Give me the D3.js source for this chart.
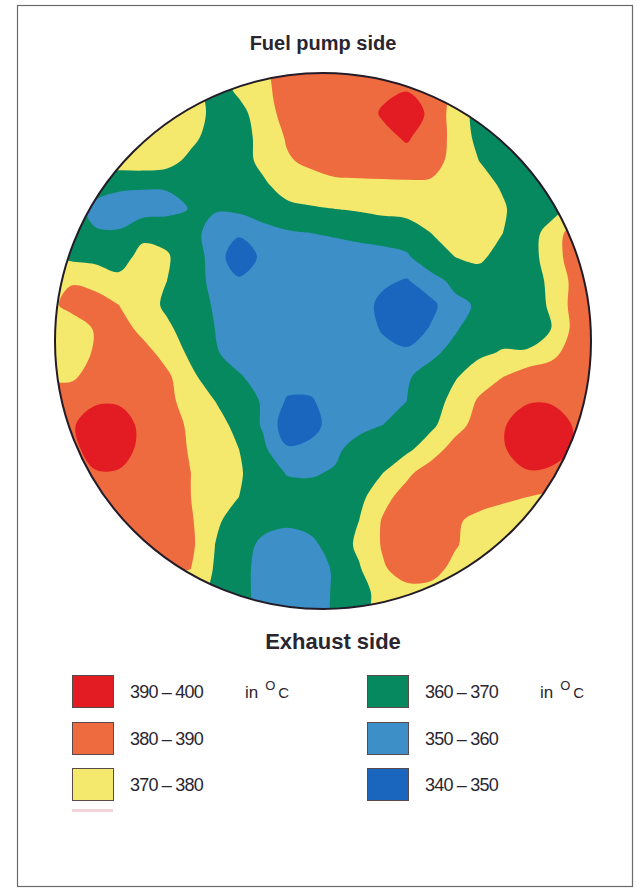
<!DOCTYPE html>
<html>
<head>
<meta charset="utf-8">
<script src="https://cdn.jsdelivr.net/npm/d3@7"></script>
<style>
  body { margin: 0; background: #fff; }
  svg text { font-family: "Liberation Sans", Arial, Helvetica, sans-serif; fill: #2a2630; }
</style>
</head>
<body>
<svg id="chart" width="637" height="892"></svg>
<script>
// Piston crown temperature field, °C, sampled on a regular 24 x 24 grid
// (rows run top to bottom, columns left to right across the crown).
const temperatureGrid = [
  [375,375,375,375,375,375,375,365,372,377,385,385,385,386,388,389,386,378,365,365,365,365,365,365],
  [375,375,375,375,375,375,375,365,372,377,385,385,385,386,388,389,386,378,365,365,365,365,365,365],
  [375,375,375,375,375,375,375,367,367,375,384,385,385,386,391,398,387,376,366,365,365,365,365,365],
  [375,375,375,375,375,376,373,365,366,373,381,385,385,386,388,391,386,377,367,365,365,365,365,365],
  [375,375,375,375,376,374,367,365,365,373,379,382,384,385,386,387,385,376,370,365,365,365,365,365],
  [365,365,365,362,361,361,364,365,366,368,375,376,378,378,378,378,378,376,373,369,365,365,365,365],
  [362,365,357,355,356,357,360.5,361,362,364,367,369,370,371,372,374,376,376,376,371,365,366,373,378],
  [363,363,361,361,367,367,364,355,352,357,359,360,361,362,365,364,370,375,376,370,365,374,385,385],
  [372,368,367,365,374,371,364,357,341,353,356,355,356,357,356,359,365,370,372,366,365,375,385,386],
  [381,379,377,373,375,370,365,357,352,355,356,356,356,356,352,349,357,362,365,365,365,372,383,385],
  [376,384,384,380,375,368,365,359,356,355,355,355,355,355,347,341,347,358,361,365,366,371,384,385],
  [376,372,381,385,377,372,365,360,356,355,355,355,355,355,349,344,351,359,365,365,365,370,383,385],
  [375,375,381,386,384,376,368,361,356,355,355,355,355,355,353,352,358,363,368,371,371,377,385,386],
  [377,378,385,386,386,382,372,365,361,356,354,354,355,355,355,359,364,369,376,380,386,386,386,386],
  [386,388,389,389,386,383,375,370,365,359,349,349,355,355,356,360,364,374,381,387,389,389,386,386],
  [388,389,394,394,388,385,378,374,367,359,344,346,355,357,360,364,368,376,384,389,396,396,389,388],
  [388,386,396,395,387,385,379,375,370,362,351,353,358,364,366,368,375,384,386,389,396,395,389,388],
  [388,388,389,389,386,385,380,375,371,365,359.5,359,361,365,370,378,385,386,386,388,389,388,386,386],
  [386,386,386,386,385,385,380,375,370,365,364,364,365,367,377,384,386,386,386,382,380,378,378,378],
  [385,385,385,385,385,385,381,372,365,363,362,363,365,370,381,386,386,382,376,375,375,375,375,375],
  [385,385,385,385,385,385,382,370,364,358,355,358,364,372,381,386,386,381,375,375,375,375,375,375],
  [382,382,382,382,382,382,380,369,364,356,355,356,361,369,379,384,384,377,375,375,375,375,375,375],
  [375,375,375,375,375,375,375,368,364,356,355,356,361,366,374,377,376,375,375,375,375,375,375,375],
  [375,375,375,375,375,375,375,368,364,356,355,356,361,366,374,377,376,375,375,375,375,375,375,375]
];

// Temperature bands shown in the key (lower and upper bound, °C)
const bandLow  = [390, 380, 370, 360, 350, 340];
const bandHigh = [400, 390, 380, 370, 360, 350];
const contourLevels = [350, 360, 370, 380, 390];

const titleTop = "Fuel pump side";
const titleBottom = "Exhaust side";
const unitLabel = "in";

// ---- layout & style ----
const W = 637, H = 892;
const cx = 323, cy = 341, R = 268;
const cell = 24;
const nx = temperatureGrid[0].length, ny = temperatureGrid.length;
const gridLeft = cx - cell * (nx - 1) / 2;   // x of first sample column
const gridTop  = cy - cell * (ny - 1) / 2;   // y of first sample row

const bandColour = d3.scaleThreshold()
  .domain(contourLevels)
  .range(["#1a66bf", "#3d8fc8", "#078960", "#f4e96c", "#ee6a3f", "#e31c24"]);

const svg = d3.select("#chart");

// page frame
svg.append("rect")
  .attr("x", 17.5).attr("y", 5.5)
  .attr("width", 615).attr("height", 881)
  .attr("fill", "none").attr("stroke", "#6b6b6b").attr("stroke-width", 1.2);

// contour coordinates: sample k sits at k + 0.5 in d3.contours space
const sx = d3.scaleLinear().domain([0.5, nx - 0.5]).range([gridLeft, gridLeft + cell * (nx - 1)]);
const sy = d3.scaleLinear().domain([0.5, ny - 0.5]).range([gridTop, gridTop + cell * (ny - 1)]);

const contours = d3.contours()
  .size([nx, ny])
  .thresholds(contourLevels)(temperatureGrid.flat());

const smoothRing = d3.line().curve(d3.curveCatmullRomClosed.alpha(0.5));
const ringPath = ring => smoothRing(ring.slice(0, -1).map(([x, y]) => [sx(x), sy(y)]));

const defs = svg.append("defs");
defs.append("clipPath").attr("id", "crown")
  .append("circle").attr("cx", cx).attr("cy", cy).attr("r", R);

const map = svg.append("g").attr("clip-path", "url(#crown)");

// coolest band underneath, warmer bands stacked on top
map.append("circle")
  .attr("cx", cx).attr("cy", cy).attr("r", R + 2)
  .attr("fill", bandColour(contourLevels[0] - 1));

map.selectAll("path.band")
  .data(contours)
  .join("path")
  .attr("class", "band")
  .attr("fill-rule", "evenodd")
  .attr("fill", d => bandColour(d.value))
  .attr("d", d => d.coordinates.map(poly => poly.map(ringPath).join("")).join(""));

// crown outline
svg.append("circle")
  .attr("cx", cx).attr("cy", cy).attr("r", R)
  .attr("fill", "none").attr("stroke", "#231c28").attr("stroke-width", 2);

// titles
svg.append("text")
  .attr("x", cx).attr("y", 50)
  .attr("text-anchor", "middle")
  .attr("font-size", 20).attr("font-weight", "bold")
  .text(titleTop);

svg.append("text")
  .attr("x", cx + 10).attr("y", 649)
  .attr("text-anchor", "middle")
  .attr("font-size", 22).attr("font-weight", "bold")
  .text(titleBottom);

// key: two columns of three bands
const keyCols = [72, 367];
const keyRows = [675, 722, 768];
const swW = 41, swH = 32;

const key = svg.append("g");
bandLow.forEach((lo, i) => {
  const col = Math.floor(i / 3), row = i % 3;
  const x = keyCols[col], y = keyRows[row];
  key.append("rect")
    .attr("x", x + 0.5).attr("y", y + 0.5)
    .attr("width", swW).attr("height", swH)
    .attr("fill", bandColour(lo))
    .attr("stroke", "#5a4a4a").attr("stroke-width", 1);
  key.append("text")
    .attr("x", x + 58).attr("y", y + 23)
    .attr("font-size", 18)
    .attr("letter-spacing", -0.8)
    .text(`${lo} – ${bandHigh[i]}`);
  if (row === 0) {
    const u = key.append("text")
      .attr("x", x + 173).attr("y", y + 23)
      .attr("font-size", 17);
    u.append("tspan").text(unitLabel);
    u.append("tspan").attr("dx", 7).attr("dy", -8).attr("font-size", 13).text("O");
    u.append("tspan").attr("dx", 3).attr("dy", 8).attr("font-size", 15).text("C");
  }
});

// top edge of a further swatch showing below the first column
key.append("rect")
  .attr("x", keyCols[0]).attr("y", keyRows[2] + 41)
  .attr("width", swW).attr("height", 3)
  .attr("fill", "#f2d3da");
</script>
</body>
</html>
